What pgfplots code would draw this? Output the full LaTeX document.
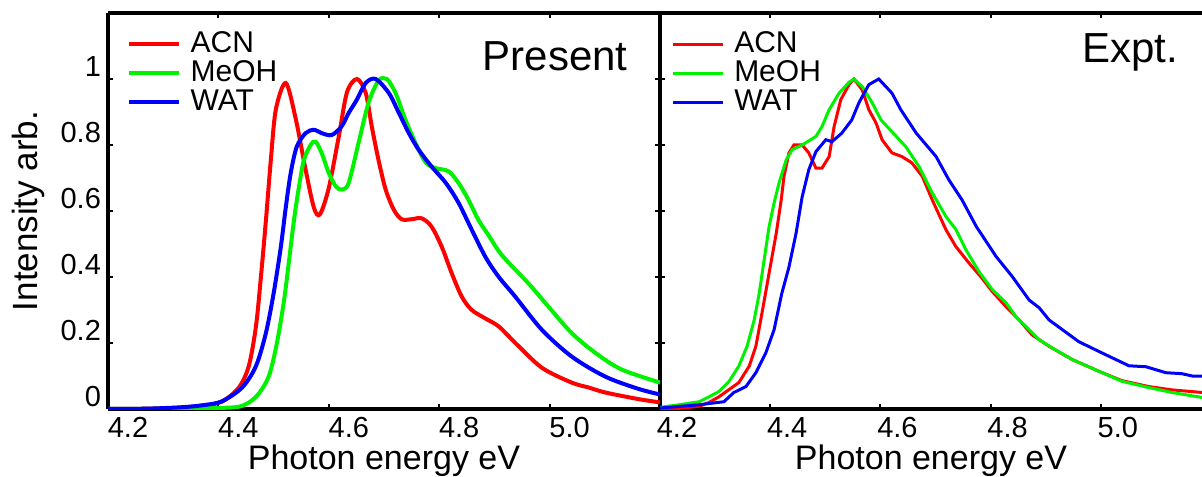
\documentclass[border=0pt]{standalone}
\usepackage{fontspec}
\setmainfont{Liberation Sans}
\usepackage{pgfplots}
\pgfplotsset{compat=1.18}

\definecolor{cACN}{rgb}{1,0,0}
\definecolor{cMeOH}{rgb}{0,0.95,0}
\definecolor{cWAT}{rgb}{0,0,1}

\pgfplotsset{
  panel/.style={
    scale only axis,
    height=198pt,
    ymin=0, ymax=1.2,
    xmin=4.2,
    xtick={4.2,4.4,4.6,4.8,5.0},
    xticklabels={4.2,4.4,4.6,4.8,5.0},
    ytick={0,0.2,0.4,0.6,0.8,1},
    tick align=inside,
    major tick length=2.6pt,
    every tick/.style={black, line width=1pt},
    separate axis lines,
    axis line style={line width=1.6pt},
    xticklabel style={font=\fontsize{14.5}{17}\selectfont, anchor=base, inner sep=0pt, yshift=-14pt},
    yticklabel style={font=\fontsize{14.5}{17}\selectfont, yshift=6pt},
    xlabel={Photon energy eV},
    xlabel style={font=\fontsize{17}{20}\selectfont, inner sep=0pt, at={(axis description cs:0.5,-0.153)}, anchor=base},
    legend cell align=left,
    legend style={draw=none, fill=none, anchor=north west,
      font=\fontsize{15}{18}\selectfont, inner sep=0pt,
      column sep=5pt, row sep=0.5pt,
      nodes={inner sep=0pt, text height=11pt, text depth=3pt}},
    legend image code/.code={\draw[#1] (0pt,0pt) -- (25pt,0pt);},
    clip mode=individual,
  },
}

\begin{document}
\begin{tikzpicture}

% ---- calculated spectra ----
\begin{axis}[panel,
  at={(54pt,33.5pt)}, anchor=south west,
  width=276pt, xmax=5.2,
  xtick pos=both, ytick pos=both,
  xticklabel style={xshift=10pt},
  yticklabels={0,0.2,0.4,0.6,0.8,1},
  ylabel={Intensity arb.},
  ylabel style={font=\fontsize{17.5}{20}\selectfont, at={(axis description cs:-0.127,0.5)}, anchor=base},
  legend style={at={(axis description cs:0.033,0.957)}},
]
\addplot[cACN, line width=2pt, smooth] coordinates {
(4.200,0.000) (4.270,0.001) (4.330,0.004) (4.370,0.010) (4.406,0.022)
(4.437,0.065) (4.455,0.130) (4.468,0.250) (4.477,0.400) (4.486,0.570)
(4.495,0.755) (4.504,0.907) (4.522,0.988) (4.540,0.880) (4.558,0.725)
(4.573,0.610) (4.584,0.590) (4.600,0.670) (4.618,0.825) (4.633,0.960)
(4.651,1.000) (4.667,0.957) (4.678,0.855) (4.690,0.755) (4.703,0.665)
(4.718,0.603) (4.732,0.575) (4.750,0.575) (4.768,0.578) (4.786,0.553)
(4.805,0.490) (4.823,0.410) (4.841,0.340) (4.859,0.300) (4.884,0.274)
(4.908,0.250) (4.938,0.200) (4.986,0.125) (5.040,0.080) (5.071,0.065)
(5.101,0.050) (5.161,0.030) (5.200,0.020)
};
\addlegendentry{ACN}
\addplot[cMeOH, line width=2pt, smooth] coordinates {
(4.200,0.000) (4.300,0.001) (4.370,0.003) (4.437,0.007) (4.468,0.037)
(4.491,0.098) (4.506,0.200) (4.519,0.330) (4.528,0.450) (4.537,0.573)
(4.546,0.674) (4.555,0.755) (4.567,0.800) (4.576,0.810) (4.587,0.776)
(4.600,0.715) (4.613,0.674) (4.624,0.665) (4.636,0.685) (4.654,0.807)
(4.672,0.928) (4.690,0.995) (4.705,1.000) (4.721,0.957) (4.739,0.876)
(4.757,0.806) (4.776,0.746) (4.794,0.730) (4.817,0.720) (4.835,0.685)
(4.853,0.634) (4.871,0.573) (4.890,0.525) (4.908,0.478) (4.926,0.443)
(4.962,0.380) (4.998,0.310) (5.040,0.230) (5.083,0.170) (5.130,0.120)
(5.200,0.080)
};
\addlegendentry{MeOH}
\addplot[cWAT, line width=2pt, smooth] coordinates {
(4.200,0.000) (4.270,0.001) (4.330,0.005) (4.370,0.011) (4.406,0.023)
(4.443,0.065) (4.468,0.130) (4.486,0.230) (4.500,0.350) (4.513,0.490)
(4.522,0.610) (4.531,0.715) (4.542,0.795) (4.558,0.836) (4.573,0.846)
(4.587,0.836) (4.605,0.830) (4.623,0.856) (4.636,0.897) (4.650,0.935)
(4.667,0.988) (4.685,1.000) (4.709,0.957) (4.727,0.897) (4.745,0.836)
(4.763,0.785) (4.786,0.735) (4.812,0.685) (4.835,0.625) (4.859,0.543)
(4.884,0.460) (4.908,0.400) (4.938,0.340) (4.986,0.240) (5.040,0.159)
(5.101,0.098) (5.161,0.061) (5.200,0.044)
};
\addlegendentry{WAT}
\node[anchor=base, font=\fontsize{21}{25}\selectfont] at (axis description cs:0.810,0.856) {Present};
\end{axis}

% ---- measured spectra ----
\begin{axis}[panel,
  at={(330pt,33.5pt)}, anchor=south west,
  width=271pt, xmax=5.1837,
  xtick pos=both, ytick pos=left,
  y axis line style={draw=none},
  xticklabel style={xshift=8.5pt},
  yticklabels={},
  legend style={at={(axis description cs:0.020,0.957)}},
]
\addplot[cACN, line width=1.5pt] coordinates {
(4.200,0.000) (4.235,0.002) (4.271,0.008) (4.289,0.020) (4.307,0.037)
(4.343,0.080) (4.362,0.130) (4.374,0.190) (4.385,0.290) (4.398,0.412)
(4.411,0.533) (4.420,0.634) (4.425,0.705) (4.434,0.776) (4.443,0.800)
(4.458,0.800) (4.470,0.776) (4.483,0.730) (4.494,0.730) (4.507,0.765)
(4.516,0.856) (4.528,0.937) (4.543,0.983) (4.552,1.000) (4.567,0.967)
(4.579,0.907) (4.592,0.867) (4.603,0.816) (4.621,0.776) (4.639,0.765)
(4.657,0.746) (4.676,0.705) (4.694,0.634) (4.719,0.543) (4.737,0.492)
(4.761,0.442) (4.784,0.397) (4.803,0.356) (4.828,0.310) (4.852,0.270)
(4.875,0.225) (4.906,0.190) (4.948,0.150) (4.997,0.114) (5.038,0.086)
(5.087,0.068) (5.129,0.058) (5.184,0.050)
};
\addlegendentry{ACN}
\addplot[cMeOH, line width=1.5pt] coordinates {
(4.200,0.005) (4.235,0.013) (4.271,0.022) (4.289,0.037) (4.307,0.053)
(4.325,0.083) (4.343,0.130) (4.358,0.190) (4.371,0.270) (4.380,0.350)
(4.389,0.452) (4.398,0.553) (4.407,0.624) (4.416,0.685) (4.429,0.755)
(4.440,0.786) (4.458,0.800) (4.483,0.826) (4.494,0.856) (4.507,0.907)
(4.525,0.957) (4.543,0.990) (4.552,1.000) (4.567,0.977) (4.585,0.928)
(4.601,0.876) (4.621,0.840) (4.646,0.795) (4.670,0.735) (4.694,0.655)
(4.719,0.583) (4.737,0.544) (4.755,0.483) (4.779,0.416) (4.803,0.362)
(4.828,0.322) (4.846,0.280) (4.870,0.240) (4.888,0.210) (4.911,0.186)
(4.948,0.150) (4.997,0.114) (5.038,0.084) (5.087,0.065) (5.129,0.050)
(5.184,0.035)
};
\addlegendentry{MeOH}
\addplot[cWAT, line width=1.5pt] coordinates {
(4.200,0.003) (4.271,0.013) (4.316,0.022) (4.334,0.050) (4.356,0.068)
(4.374,0.110) (4.392,0.170) (4.407,0.240) (4.421,0.350) (4.434,0.430)
(4.447,0.533) (4.458,0.643) (4.470,0.725) (4.483,0.780) (4.501,0.816)
(4.512,0.810) (4.530,0.836) (4.548,0.876) (4.561,0.928) (4.579,0.983)
(4.597,1.000) (4.621,0.957) (4.637,0.907) (4.665,0.836) (4.701,0.765)
(4.724,0.695) (4.748,0.634) (4.774,0.553) (4.810,0.462) (4.839,0.402)
(4.870,0.330) (4.888,0.307) (4.906,0.270) (4.960,0.204) (4.997,0.174)
(5.051,0.131) (5.082,0.128) (5.118,0.110) (5.147,0.107) (5.166,0.100)
(5.184,0.100)
};
\addlegendentry{WAT}
\node[anchor=base, font=\fontsize{21}{25}\selectfont] at (axis description cs:0.867,0.874) {Expt.};
\end{axis}

\pgfresetboundingbox
\useasboundingbox (0pt,0pt) rectangle (601pt,238pt);
\end{tikzpicture}
\end{document}
